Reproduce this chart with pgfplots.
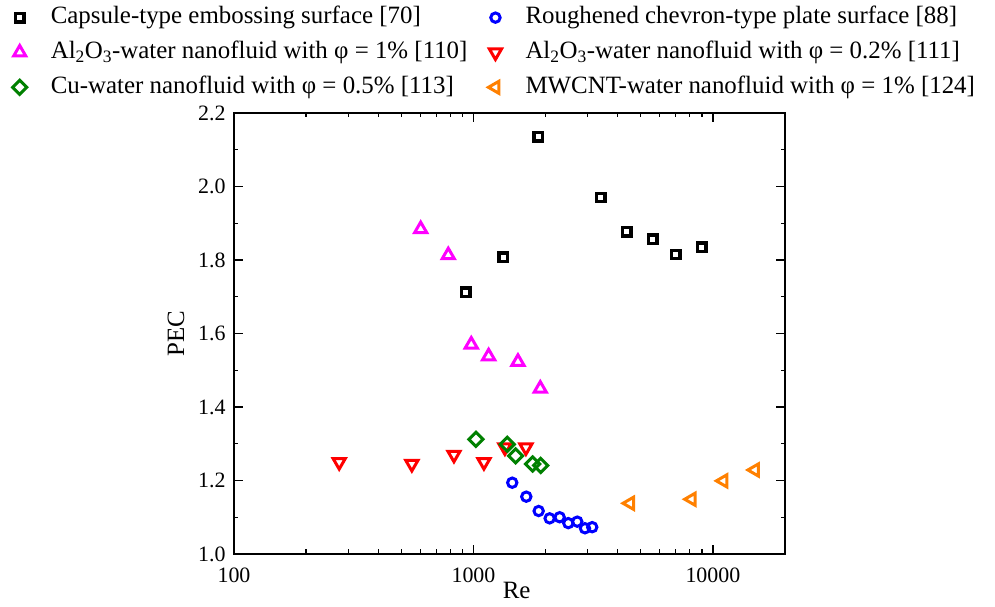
\documentclass[border=0pt]{standalone}
\usepackage{fontspec}
\setmainfont{Liberation Serif}
\usepackage{pgfplots}
\pgfplotsset{compat=1.18}
\definecolor{cgreen}{RGB}{0,128,0}
\definecolor{corange}{RGB}{255,128,0}
\definecolor{cmag}{RGB}{255,0,255}
\begin{document}
\fontsize{25}{30}\selectfont
\begin{tikzpicture}
\begin{axis}[
  name=ax,
  xmode=log, scale only axis, width=551bp, height=441bp,
  xmin=100, xmax=20000, ymin=1.0, ymax=2.2,
  xtick={100,1000,10000}, xticklabels={100,1000,10000},
  minor xtick={200,300,400,500,600,700,800,900,2000,3000,4000,5000,6000,7000,8000,9000,20000},
  ytick={1,1.2,1.4,1.6,1.8,2,2.2}, minor y tick num=1,
  tick label style={font=\fontsize{22}{26}\selectfont},
  yticklabel style={/pgf/number format/fixed, /pgf/number format/fixed zerofill, /pgf/number format/precision=1},
  xticklabel style={yshift=-5bp},
  /pgf/number format/assume math mode=true,
  tick align=inside,
  major tick length=9bp, minor tick length=4.5bp,
  axis line style={line width=1.6bp},
  every tick/.style={black, line width=1.3bp},
  xlabel={Re}, xlabel style={at={(axis description cs:0.513,-0.0816)}, anchor=center},
  ylabel={PEC}, ylabel style={at={(axis description cs:-0.1053,0.5)}, anchor=center},
  legend columns=2,
  legend style={draw=none, fill=none, at={(axis description cs:-0.4075,1.2517)}, anchor=north west,
    nodes={text depth=}, row sep=8bp,
    /tikz/every odd column/.append style={column sep=22bp},
    /tikz/every even column/.append style={column sep=19bp}},
  legend cell align=left,
]
\addplot[only marks, black, line width=3.4bp, mark=square, mark size=4.2bp, mark options={solid, line width=3.4bp}] coordinates {
(930,1.712) (1332,1.808) (1865,2.135) (3404,1.970) (4363,1.877) (5616,1.857) (6988,1.815) (8970,1.835)};
\addlegendentry{Capsule-type embossing surface [70]}
\addplot[only marks, blue, line width=3bp, mark=o, mark size=4.7bp, mark options={solid, line width=3bp}] coordinates {
(1452,1.194) (1662,1.156) (1872,1.117) (2080,1.097) (2291,1.100) (2489,1.084) (2713,1.088) (2922,1.070) (3133,1.073)};
\addlegendentry{Roughened chevron-type plate surface [88]}
\addplot[only marks, cmag, line width=3bp, mark=triangle, mark size=7bp, mark options={solid, line width=3bp}] coordinates {
(602,1.884) (785,1.813) (979,1.570) (1157,1.538) (1534,1.523) (1901,1.450)};
\addlegendentry{Al\textsubscript{2}O\textsubscript{3}-water nanofluid with φ = 1\% [110]}
\addplot[only marks, red, line width=3bp, mark=triangle, mark size=7bp, mark options={solid, line width=3bp, rotate=180}] coordinates {
(275,1.250) (553,1.245) (829,1.270) (1106,1.250) (1353,1.290) (1656,1.290)};
\addlegendentry{Al\textsubscript{2}O\textsubscript{3}-water nanofluid with φ = 0.2\% [111]}
\addplot[only marks, cgreen, line width=3bp, mark=square, mark size=5bp, mark options={solid, line width=3bp, rotate=45}] coordinates {
(1024,1.312) (1384,1.2985) (1500,1.267) (1766,1.245) (1908,1.241)};
\addlegendentry{Cu-water nanofluid with φ = 0.5\% [113]}
\addplot[only marks, corange, line width=3bp, mark=triangle, mark size=7bp, mark options={solid, line width=3bp, rotate=90}] coordinates {
(4505,1.138) (8153,1.149) (11055,1.199) (14970,1.2286)};
\addlegendentry{MWCNT-water nanofluid with φ = 1\% [124]}
\end{axis}
\path ([shift={(-234bp,-48bp)}]ax.south west) rectangle ([shift={(210bp,113bp)}]ax.north east);
\end{tikzpicture}
\end{document}
